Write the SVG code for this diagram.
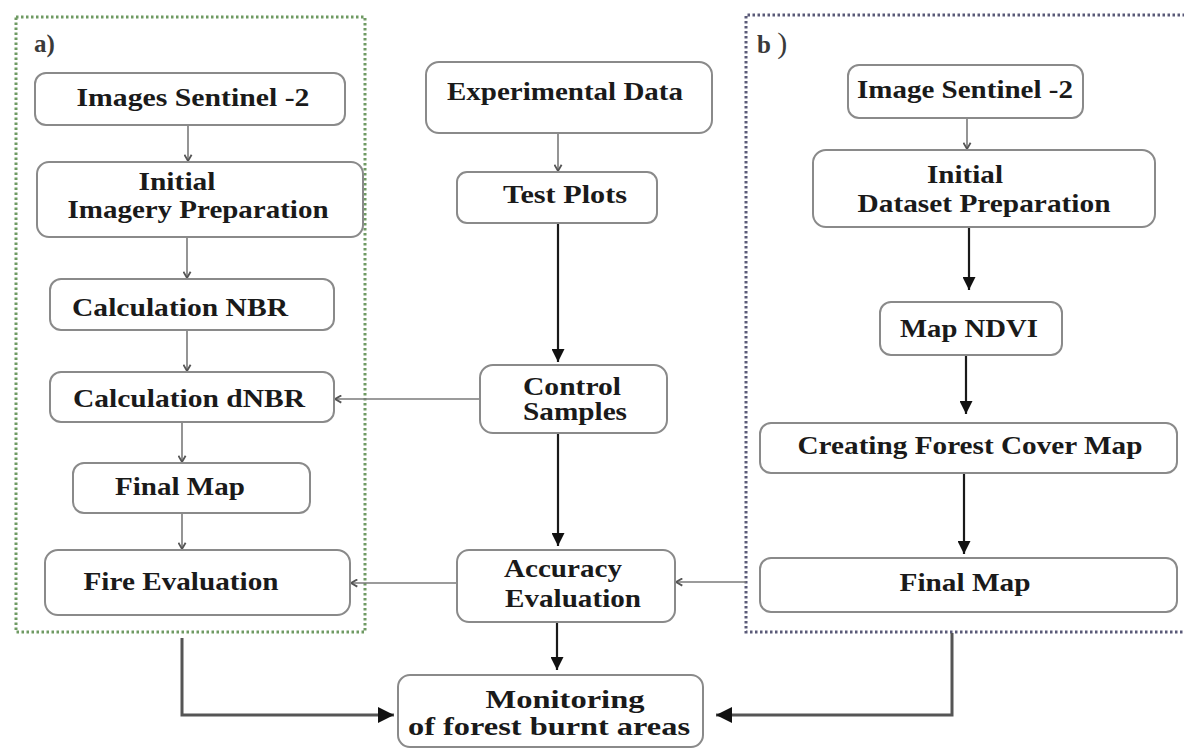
<svg xmlns="http://www.w3.org/2000/svg" width="1184" height="749" viewBox="0 0 1184 749">
<style>
.box{fill:#fff;stroke:#8a8a8a;stroke-width:2}
.t{font-family:"Liberation Serif","Times New Roman",serif;font-weight:bold;font-size:25px;fill:#1a1a1a;text-anchor:middle}
.lbl{font-family:"Liberation Serif","Times New Roman",serif;font-weight:bold;font-size:25px;fill:#3a3a3a}
.thin{fill:none;stroke:#7a7a7a;stroke-width:1.6}
.thick{fill:none;stroke:#1a1a1a;stroke-width:2.2}
.elbow{fill:none;stroke:#555;stroke-width:3}
</style>
<defs>
<marker id="sm" viewBox="0 0 10 10" refX="8" refY="5" markerWidth="9" markerHeight="9" markerUnits="userSpaceOnUse" orient="auto">
<path d="M1,1 L8,5 L1,9" fill="none" stroke="#555" stroke-width="2"/>
</marker>
<marker id="big" viewBox="0 0 10 10" refX="10" refY="5" markerWidth="13" markerHeight="13" markerUnits="userSpaceOnUse" orient="auto">
<path d="M0,0 L10,5 L0,10 z" fill="#111"/>
</marker>
<marker id="big2" viewBox="0 0 10 10" refX="10" refY="5" markerWidth="16" markerHeight="16" markerUnits="userSpaceOnUse" orient="auto">
<path d="M0,0 L10,5 L0,10 z" fill="#111"/>
</marker>
</defs>
<rect width="1184" height="749" fill="#fff"/>

<g id="panel-a">
<rect x="16" y="17" width="349" height="615" fill="none" stroke="#6f9a63" stroke-width="3" stroke-dasharray="2.5,2.5"/>
<text class="lbl" x="34" y="52">a)</text>
</g>
<g id="panel-b">
<path d="M1190,15 H746 V632 H1190" fill="none" stroke="#5a5a78" stroke-width="3" stroke-dasharray="2.5,2.5"/>
<text class="lbl" x="757" y="53" font-size="20">b <tspan font-size="30" font-weight="normal">)</tspan></text>
</g>

<g id="connectors">
<line class="thin" x1="188" y1="125" x2="188" y2="161" marker-end="url(#sm)"/>
<line class="thin" x1="187" y1="237" x2="187" y2="278" marker-end="url(#sm)"/>
<line class="thin" x1="187" y1="330" x2="187" y2="371" marker-end="url(#sm)"/>
<line class="thin" x1="182" y1="422" x2="182" y2="462" marker-end="url(#sm)"/>
<line class="thin" x1="182" y1="513" x2="182" y2="549" marker-end="url(#sm)"/>
<line class="thin" x1="480" y1="399" x2="335" y2="399" marker-end="url(#sm)"/>
<line class="thin" x1="457" y1="583" x2="351" y2="583" marker-end="url(#sm)"/>
<line class="thin" x1="558" y1="133" x2="558" y2="171" marker-end="url(#sm)"/>
<line class="thick" x1="558" y1="223" x2="558" y2="362" marker-end="url(#big)"/>
<line class="thick" x1="558" y1="433" x2="558" y2="546" marker-end="url(#big)"/>
<line class="thick" x1="557" y1="622" x2="557" y2="670" marker-end="url(#big)"/>
<line class="thin" x1="967" y1="118" x2="967" y2="149" marker-end="url(#sm)"/>
<line class="thick" x1="969" y1="227" x2="969" y2="290" marker-end="url(#big)"/>
<line class="thick" x1="966" y1="355" x2="966" y2="414" marker-end="url(#big)"/>
<line class="thick" x1="964" y1="473" x2="964" y2="554" marker-end="url(#big)"/>
<line class="thin" x1="746" y1="582" x2="676" y2="582" marker-end="url(#sm)"/>
<path class="elbow" d="M182,638 V715 H394" marker-end="url(#big2)"/>
<path class="elbow" d="M952,633 V715 H716" marker-end="url(#big2)"/>
</g>

<g id="n-images-s2">
<rect class="box" x="35" y="73" width="310" height="52" rx="11"/>
<text class="t" x="193" y="106" textLength="233" lengthAdjust="spacingAndGlyphs">Images  Sentinel -2</text>
</g>
<g id="n-initial-imagery">
<rect class="box" x="37" y="162" width="326" height="75" rx="12"/>
<text class="t" x="177" y="190" textLength="77" lengthAdjust="spacingAndGlyphs">Initial</text>
<text class="t" x="198" y="218" textLength="261" lengthAdjust="spacingAndGlyphs">Imagery Preparation</text>
</g>
<g id="n-calc-nbr">
<rect class="box" x="50" y="279" width="284" height="51" rx="11"/>
<text class="t" x="180" y="316" textLength="216" lengthAdjust="spacingAndGlyphs">Calculation  NBR</text>
</g>
<g id="n-calc-dnbr">
<rect class="box" x="50" y="372" width="284" height="50" rx="11"/>
<text class="t" x="189" y="407" textLength="232" lengthAdjust="spacingAndGlyphs">Calculation dNBR</text>
</g>
<g id="n-final-map-a">
<rect class="box" x="73" y="463" width="237" height="50" rx="11"/>
<text class="t" x="180" y="495" textLength="130" lengthAdjust="spacingAndGlyphs">Final Map</text>
</g>
<g id="n-fire-eval">
<rect class="box" x="45" y="550" width="305" height="65" rx="13"/>
<text class="t" x="181" y="590" textLength="195" lengthAdjust="spacingAndGlyphs">Fire Evaluation</text>
</g>

<g id="n-exp-data">
<rect class="box" x="426" y="62" width="286" height="71" rx="13"/>
<text class="t" x="565" y="100" textLength="236" lengthAdjust="spacingAndGlyphs">Experimental Data</text>
</g>
<g id="n-test-plots">
<rect class="box" x="457" y="172" width="200" height="51" rx="10"/>
<text class="t" x="565" y="203" textLength="124" lengthAdjust="spacingAndGlyphs">Test Plots</text>
</g>
<g id="n-control">
<rect class="box" x="480" y="365" width="187" height="68" rx="13"/>
<text class="t" x="572" y="395" textLength="98" lengthAdjust="spacingAndGlyphs">Control</text>
<text class="t" x="575" y="420" textLength="104" lengthAdjust="spacingAndGlyphs">Samples</text>
</g>
<g id="n-accuracy">
<rect class="box" x="457" y="550" width="218" height="72" rx="12"/>
<text class="t" x="563" y="577" textLength="118" lengthAdjust="spacingAndGlyphs">Accuracy</text>
<text class="t" x="573" y="607" textLength="136" lengthAdjust="spacingAndGlyphs">Evaluation</text>
</g>
<g id="n-monitoring">
<rect class="box" x="398" y="675" width="305" height="72" rx="12"/>
<text class="t" x="565" y="708" textLength="159" lengthAdjust="spacingAndGlyphs">Monitoring</text>
<text class="t" x="549" y="735" textLength="282" lengthAdjust="spacingAndGlyphs">of forest burnt areas</text>
</g>

<g id="n-image-s2-b">
<rect class="box" x="848" y="65" width="235" height="53" rx="11"/>
<text class="t" x="965" y="98" textLength="216" lengthAdjust="spacingAndGlyphs">Image Sentinel -2</text>
</g>
<g id="n-initial-dataset">
<rect class="box" x="813" y="150" width="342" height="77" rx="13"/>
<text class="t" x="965" y="183" textLength="76" lengthAdjust="spacingAndGlyphs">Initial</text>
<text class="t" x="984" y="212" textLength="253" lengthAdjust="spacingAndGlyphs">Dataset Preparation</text>
</g>
<g id="n-map-ndvi">
<rect class="box" x="880" y="302" width="182" height="53" rx="11"/>
<text class="t" x="969" y="337" textLength="138" lengthAdjust="spacingAndGlyphs">Map NDVI</text>
</g>
<g id="n-forest-cover">
<rect class="box" x="760" y="423" width="417" height="50" rx="11"/>
<text class="t" x="970" y="454" textLength="345" lengthAdjust="spacingAndGlyphs">Creating Forest Cover Map</text>
</g>
<g id="n-final-map-b">
<rect class="box" x="760" y="558" width="417" height="54" rx="11"/>
<text class="t" x="965" y="591" textLength="131" lengthAdjust="spacingAndGlyphs">Final Map</text>
</g>
</svg>
